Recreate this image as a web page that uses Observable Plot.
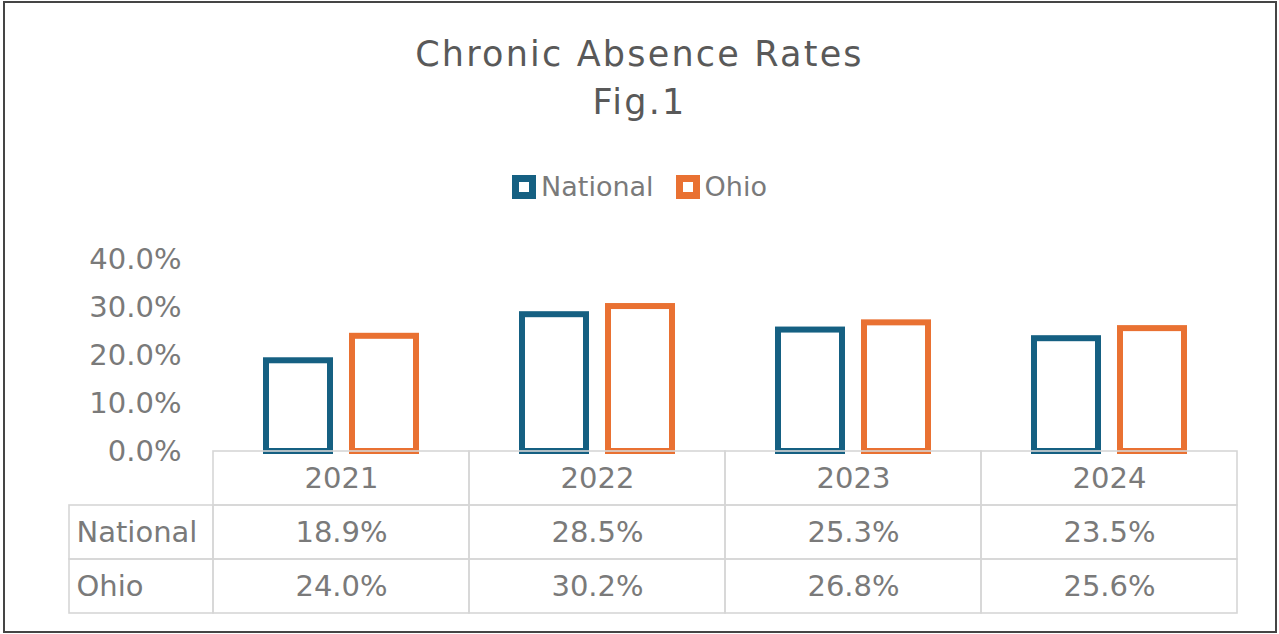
<!DOCTYPE html>
<html>
<head>
<meta charset="utf-8">
<script src="https://cdn.jsdelivr.net/npm/d3@7"></script>
<script src="https://cdn.jsdelivr.net/npm/@observablehq/plot@0.6"></script>
<style>
  html, body { margin: 0; padding: 0; background: #fff; }
  #wrap { position: relative; width: 1279px; height: 634px; overflow: hidden; background: #fff; font-family: "DejaVu Sans", sans-serif; }
  #border { position: absolute; left: 3px; top: 1px; width: 1270px; height: 628px; border: 2px solid #454545; }
  .title { position: absolute; left: 0; width: 1279px; text-align: center; color: #595959; font-size: 35px; line-height: 36px; letter-spacing: 2.2px; }
  #legend { position: absolute; left: 0; width: 1279px; top: 172px; display: flex; justify-content: center; align-items: center; color: #7a7a7a; font-size: 27px; line-height: 30px; }
  .sw { display: inline-block; box-sizing: border-box; flex: 0 0 24px; width: 24px; height: 24px; border: 7.5px solid; margin-right: 5px; }
  .item { display: flex; align-items: center; margin: 0 11px; }
  #chart, #table { position: absolute; left: 0; top: 0; }
</style>
</head>
<body>
<div id="wrap">
  <div class="title" style="top:36px">Chronic Absence Rates</div>
  <div class="title" style="top:84px">Fig.1</div>
  <div id="legend"></div>
  <div id="chart"></div>
  <div id="table"></div>
  <div id="border"></div>
</div>
<script>
// ---- data ----
const years = ["2021", "2022", "2023", "2024"];
const seriesNames = ["National", "Ohio"];
const nationalValues = [18.9, 28.5, 25.3, 23.5];
const ohioValues = [24.0, 30.2, 26.8, 25.6];
const yTicks = [0, 10, 20, 30, 40];
const seriesColors = ["#156082", "#E97132"];

const valuesBySeries = {National: nationalValues, Ohio: ohioValues};
const fmt = d => d.toFixed(1) + "%";

const bars = [];
years.forEach((yr, i) => seriesNames.forEach(s => bars.push({year: yr, series: s, value: valuesBySeries[s][i]})));

// ---- legend ----
const legend = document.getElementById("legend");
seriesNames.forEach((s, i) => {
  const it = document.createElement("span");
  it.className = "item";
  const sw = document.createElement("span");
  sw.className = "sw";
  sw.style.borderColor = seriesColors[i];
  it.appendChild(sw);
  it.appendChild(document.createTextNode(s));
  legend.appendChild(it);
});

const textStyle = {fontFamily: "DejaVu Sans, sans-serif", fontSize: "29px", color: "#7a7a7a", background: "transparent", overflow: "visible"};

// ---- bars ----
const chart = Plot.plot({
  width: 1279,
  height: 455,
  marginLeft: 213,
  marginRight: 42,
  marginTop: 259,
  marginBottom: 4,
  style: textStyle,
  fx: {domain: years, padding: 0, axis: null},
  x: {domain: seriesNames, paddingInner: 0.256, paddingOuter: 0.616, axis: null},
  y: {domain: [0, 40], ticks: yTicks, tickFormat: fmt, tickSize: 0, tickPadding: 32, label: null},
  color: {domain: seriesNames, range: seriesColors},
  marks: [
    Plot.barY(bars, {fx: "year", x: "series", y: "value", stroke: "series", fill: "white", strokeWidth: 6})
  ]
});
document.getElementById("chart").appendChild(chart);

// ---- data table ----
const rowKeys = ["header", ...seriesNames];
const labelWidth = 0.5625; // label column width in year-column units
const cells = [];
years.forEach((yr, i) => {
  cells.push({row: "header", x1: i, x2: i + 1, text: yr});
  seriesNames.forEach(s => cells.push({row: s, x1: i, x2: i + 1, text: fmt(valuesBySeries[s][i])}));
});
const labelCells = seriesNames.map(s => ({row: s, x1: -labelWidth, x2: 0, text: s}));

const table = Plot.plot({
  width: 1279,
  height: 634,
  marginLeft: 69,
  marginRight: 42,
  marginTop: 451,
  marginBottom: 21,
  style: textStyle,
  x: {domain: [-labelWidth, years.length], axis: null},
  y: {type: "band", domain: rowKeys, padding: 0, axis: null},
  marks: [
    Plot.rect([...cells, ...labelCells], {x1: "x1", x2: "x2", y: "row", stroke: "#d6d6d6", strokeWidth: 1.6, fill: "none"}),
    Plot.text(cells, {x: d => (d.x1 + d.x2) / 2, y: "row", text: "text", fill: "#7a7a7a"}),
    Plot.text(labelCells, {x: "x1", y: "row", text: "text", textAnchor: "start", dx: 7, fill: "#7a7a7a"})
  ]
});
document.getElementById("table").appendChild(table);
</script>
</body>
</html>
